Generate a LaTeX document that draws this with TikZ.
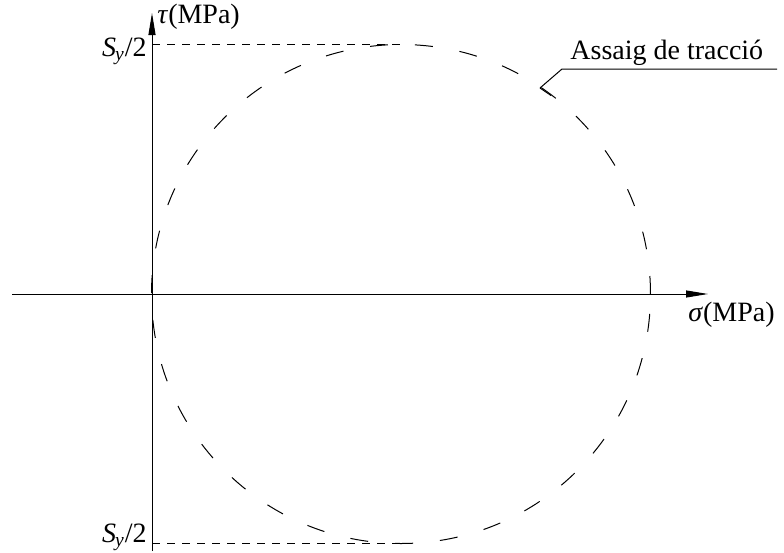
\documentclass[tikz,border=0pt]{standalone}
\usepackage{fontspec}
\setmainfont{Liberation Serif}
\usetikzlibrary{positioning,arrows.meta}

\begin{document}
\begin{tikzpicture}[
        x=0.5pt, y=-0.5pt,
        axis/.style={line width=0.5pt, -{Triangle[length=11pt, width=3.5pt]}},
        mohr/.style={line width=0.5pt, dash pattern=on 9pt off 13.5pt},
        guide/.style={line width=0.5pt, dash pattern=on 4pt off 3.5pt},
        lbl/.style={inner sep=0pt, font=\fontsize{14}{16}\selectfont}
    ]
        \useasboundingbox (0,0) rectangle (784,553);
        % eixos
        \coordinate (o) at (152,294);
        \coordinate (xl) at (12,294);
        \coordinate (xr) at (708,294);
        \coordinate (yb) at (152,551);
        \coordinate (yt) at (152,13);
        \draw[axis] (xl) -- (xr);
        \draw[axis] (yb) -- (yt);
        \node[lbl, anchor=base west] (sig) at (688,321) {\textit{σ}(MPa)};
        \node[lbl, anchor=base west] (tau) at (157,23) {\textit{τ}(MPa)};
        % cercle de Mohr
        \coordinate (c) at (401,294);
        \coordinate (top) at (401,44.5);
        \coordinate (bot) at (401,543.5);
        \draw[mohr] (c) ++(249.5,0) arc[start angle=0, end angle=-360, radius=249.5];
        \draw[guide] (top -| o) -- (top);
        \draw[guide] (bot -| o) -- (bot);
        \node[lbl, anchor=base east] (sytop) at (147,56) {\textit{S}\kern-0.5pt\textsubscript{\textit{y}}/2};
        \node[lbl, anchor=base east] (sybot) at (147,542) {\textit{S}\kern-0.5pt\textsubscript{\textit{y}}/2};
        % llegenda
        \coordinate (ltip) at (540,88);
        \coordinate (lknee) at (562,69);
        \coordinate (lend) at (777,69);
        \node[lbl, anchor=base west] (assaig) at (570,59) {Assaig de tracció};
        \draw[line width=0.5pt] (ltip) -- (lknee) -- (lend);
        \draw[line width=0.5pt] (ltip) -- ++(11,7.5);
    \end{tikzpicture}
\end{document}
